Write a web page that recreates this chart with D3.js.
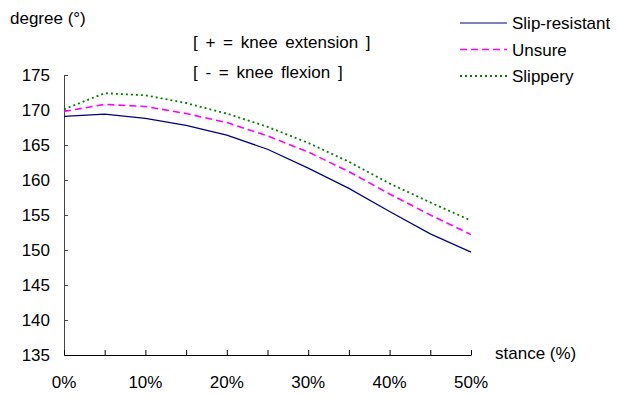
<!DOCTYPE html>
<html>
<head>
<meta charset="utf-8">
<script src="https://cdn.jsdelivr.net/npm/d3@7"></script>
<style>
  body { margin: 0; background: #fff; }
  svg text { font-family: "Liberation Sans", Arial, sans-serif; fill: #000; font-size: 17px; }
</style>
</head>
<body>
<div id="chart"></div>
<script>
// stance percentages and knee angles per surface
const stance = [0, 5, 10, 15, 20, 25, 30, 35, 40, 45, 50];
const slipResistant = [169.1, 169.4, 168.8, 167.8, 166.4, 164.4, 161.7, 158.8, 155.5, 152.3, 149.7];
const unsure = [169.8, 170.8, 170.5, 169.5, 168.2, 166.3, 164.0, 161.2, 158.0, 155.0, 152.2];
const slippery = [170.1, 172.4, 172.1, 171.0, 169.5, 167.6, 165.3, 162.6, 159.5, 156.8, 154.2];
const yTicks = [135, 140, 145, 150, 155, 160, 165, 170, 175];
const xLabels = [0, 10, 20, 30, 40, 50];
const seriesNames = ['Slip-resistant', 'Unsure', 'Slippery'];

const width = 618, height = 396;
const margin = { top: 75, right: 147, bottom: 41, left: 64 };

const svg = d3.select('#chart').append('svg')
  .attr('width', width)
  .attr('height', height);

const x = d3.scaleLinear().domain([0, 50]).range([margin.left, width - margin.right]);
const y = d3.scaleLinear().domain([135, 175]).range([height - margin.bottom, margin.top]);

// y axis (ticks point inward)
svg.append('g')
  .attr('transform', `translate(${margin.left},0)`)
  .call(d3.axisRight(y).tickValues(yTicks).tickSize(4).tickFormat(''))
  .call(g => g.select('.domain').attr('stroke', '#444'))
  .call(g => g.selectAll('.tick line').attr('stroke', '#444'));

svg.selectAll('.ylab')
  .data(yTicks)
  .enter().append('text')
  .attr('x', 50)
  .attr('y', d => y(d))
  .attr('dy', '0.36em')
  .attr('text-anchor', 'end')
  .text(d => d);

// x axis
svg.append('g')
  .attr('transform', `translate(0,${y(135)})`)
  .call(d3.axisTop(x).tickValues(stance).tickSize(5).tickFormat('').tickSizeOuter(0))
  .call(g => g.select('.domain').attr('stroke', '#000'))
  .call(g => g.selectAll('.tick line').attr('stroke', '#000'));

svg.selectAll('.xlab')
  .data(xLabels)
  .enter().append('text')
  .attr('x', d => x(d))
  .attr('y', 382)
  .attr('dy', '0.36em')
  .attr('text-anchor', 'middle')
  .text(d => d + '%');

svg.append('text')
  .attr('x', 495).attr('y', 353).attr('dy', '0.36em')
  .text('stance (%)');

svg.append('text')
  .attr('x', 10).attr('y', 18).attr('dy', '0.36em')
  .text('degree (°)');

svg.append('text')
  .attr('x', 193).attr('y', 42).attr('dy', '0.36em')
  .style('word-spacing', '3px')
  .text('[ + = knee extension ]');

svg.append('text')
  .attr('x', 193).attr('y', 72).attr('dy', '0.36em')
  .style('word-spacing', '3px')
  .text('[ - = knee flexion ]');

const styles = [
  { color: '#000080', width: 1.2, dash: null },
  { color: '#ff00ff', width: 1.6, dash: '7,4' },
  { color: '#008000', width: 1.8, dash: '2,3' },
];
const allSeries = [slipResistant, unsure, slippery];

const line = d3.line()
  .x((d, i) => x(stance[i]))
  .y(d => y(d));

allSeries.forEach((vals, k) => {
  svg.append('path')
    .datum(vals)
    .attr('fill', 'none')
    .attr('stroke', styles[k].color)
    .attr('stroke-width', styles[k].width)
    .attr('stroke-dasharray', styles[k].dash)
    .attr('d', line);
});

// legend
const legend = svg.append('g');
seriesNames.forEach((name, k) => {
  const ly = 23 + k * 26.5;
  legend.append('line')
    .attr('x1', 460).attr('x2', 507)
    .attr('y1', ly).attr('y2', ly)
    .attr('stroke', styles[k].color)
    .attr('stroke-width', styles[k].width)
    .attr('stroke-dasharray', styles[k].dash);
  legend.append('text')
    .attr('x', 512).attr('y', ly).attr('dy', '0.36em')
    .text(name);
});
</script>
</body>
</html>
